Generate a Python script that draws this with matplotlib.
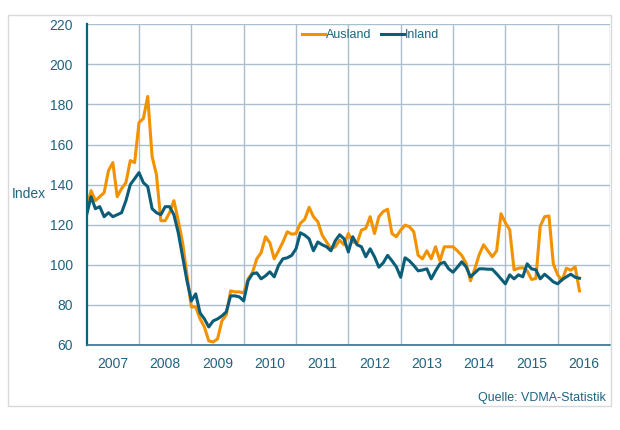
import numpy as np
import matplotlib
matplotlib.use("Agg")
import matplotlib.pyplot as plt
from matplotlib.patches import Rectangle

plt.rcParams['font.family'] = ['Liberation Sans', 'DejaVu Sans']

## monthly index values, Jan 2007 .. Jun 2016
years = ["2007", "2008", "2009", "2010", "2011", "2012", "2013", "2014", "2015", "2016"]

ausland = [
    128, 137, 132, 134, 136, 147, 151, 134, 138, 141, 152, 151,          # 2007
    171, 173, 184, 154, 145, 122, 122, 126, 132, 122, 111, 95,           # 2008
    79, 79, 73, 69, 62, 61.5, 63, 72, 75, 87, 86.5, 86.5,                # 2009
    86, 93, 96, 103, 106, 114, 111, 103, 107, 111.4, 116.5, 115.3,       # 2010
    115.6, 120.7, 122.7, 128.7, 124, 121.5, 114.8, 111.4, 108, 109, 112.3, 110,  # 2011
    115.6, 111.4, 110.9, 117.3, 118.2, 124, 115.6, 124, 126.6, 127.7, 115.6, 114,  # 2012
    117.3, 119.8, 119, 116.5, 104.7, 103, 107, 103, 109, 102, 109, 109,  # 2013
    109, 107, 104.7, 100.8, 92, 98, 105, 110, 107, 104, 107, 125.5,      # 2014
    121, 117.5, 97.5, 98.3, 98.6, 97, 92.7, 93.2, 119.3, 124, 124.4, 100.5,  # 2015
    95, 92.2, 98.3, 97.3, 99, 87,                                        # 2016
]

inland = [
    125, 134, 128, 129, 124, 126, 124, 125, 126, 132, 140, 143,          # 2007
    146, 141, 139, 128, 126, 125, 129, 129, 125, 116, 104, 92,           # 2008
    82, 85.5, 76, 73, 69, 72, 73, 74.5, 76.5, 84.5, 84.5, 84,            # 2009
    82, 92, 95.5, 96, 93, 94.5, 96.5, 94, 99.7, 103, 103.5, 104.7,       # 2010
    108, 116, 114.8, 113, 107, 111.4, 110, 109, 107, 112, 115, 113,      # 2011
    106.4, 114, 110, 109, 104, 108, 104, 98.8, 101, 104.7, 102, 99,      # 2012
    93.8, 103.5, 102, 99.7, 97, 97.4, 98, 93, 97, 100.5, 101.3, 98,      # 2013
    96.3, 98.8, 101.5, 99, 94, 96, 98, 98, 97.8, 97.8, 95.5, 93,         # 2014
    90.5, 95, 93, 95, 94, 100.5, 98, 97.5, 93, 95.3, 93.5, 91.5,         # 2015
    90.5, 92.6, 94, 95.3, 93.8, 93.3,                                    # 2016
]

ORANGE = "#F39200"
TEAL = "#0B5D78"
TXT = "#1F6480"
GRID = "#AABFCB"

fig = plt.figure(figsize=(6.2, 4.3), dpi=100)
ax = fig.add_axes([0.1398, 0.1977, 0.8441, 0.7458])

## outer frame around the whole graphic
fig.patches.append(Rectangle((0.0129, 0.0558), 0.9726, 0.9093, transform=fig.transFigure,
                             fill=False, edgecolor="#D9D9D9", lw=1.0))

months = np.arange(len(ausland))
ax.plot(months, ausland, color=ORANGE, lw=2.2, label="Ausland", solid_joinstyle="round")
ax.plot(months, inland, color=TEAL, lw=2.2, label="Inland", solid_joinstyle="round")

ax.set_xlim(0, 12 * len(years))
ax.set_ylim(60, 220)
ax.set_yticks(np.arange(60, 221, 20))
ax.set_xticks(np.arange(len(years)) * 12 + 6)
ax.set_xticklabels(years)
ax.set_xticks(np.arange(12, 12 * len(years) + 1, 12), minor=True)

ax.grid(which="minor", axis="x", color=GRID, lw=1.0)
ax.grid(which="major", axis="y", color=GRID, lw=1.0)
ax.set_axisbelow(True)
ax.tick_params(which="both", length=0)
ax.tick_params(axis="y", labelsize=10, labelcolor=TXT, pad=10)
ax.tick_params(axis="x", labelsize=10, labelcolor=TXT, pad=9)

for s in ["top", "right"]:
    ax.spines[s].set_visible(False)
ax.spines["left"].set_color("#0E5F7E")
ax.spines["left"].set_linewidth(1.6)
ax.spines["bottom"].set_color("#2C7590")
ax.spines["bottom"].set_linewidth(1.2)

fig.text(12 / 620, 1 - 194 / 430, "Index", fontsize=10, color=TXT, ha="left", va="center")
fig.text(606 / 620, 1 - 398 / 430, "Quelle: VDMA-Statistik", fontsize=9, color=TXT,
         ha="right", va="center")

leg = ax.legend(loc="center", bbox_to_anchor=(0.543, 0.967), ncol=2, frameon=False,
                fontsize=9, handlelength=1.8, handletextpad=0.1, columnspacing=0.8,
                borderpad=0, borderaxespad=0)
for t in leg.get_texts():
    t.set_color(TXT)

fig.savefig("out.png", dpi=100, facecolor="white")
